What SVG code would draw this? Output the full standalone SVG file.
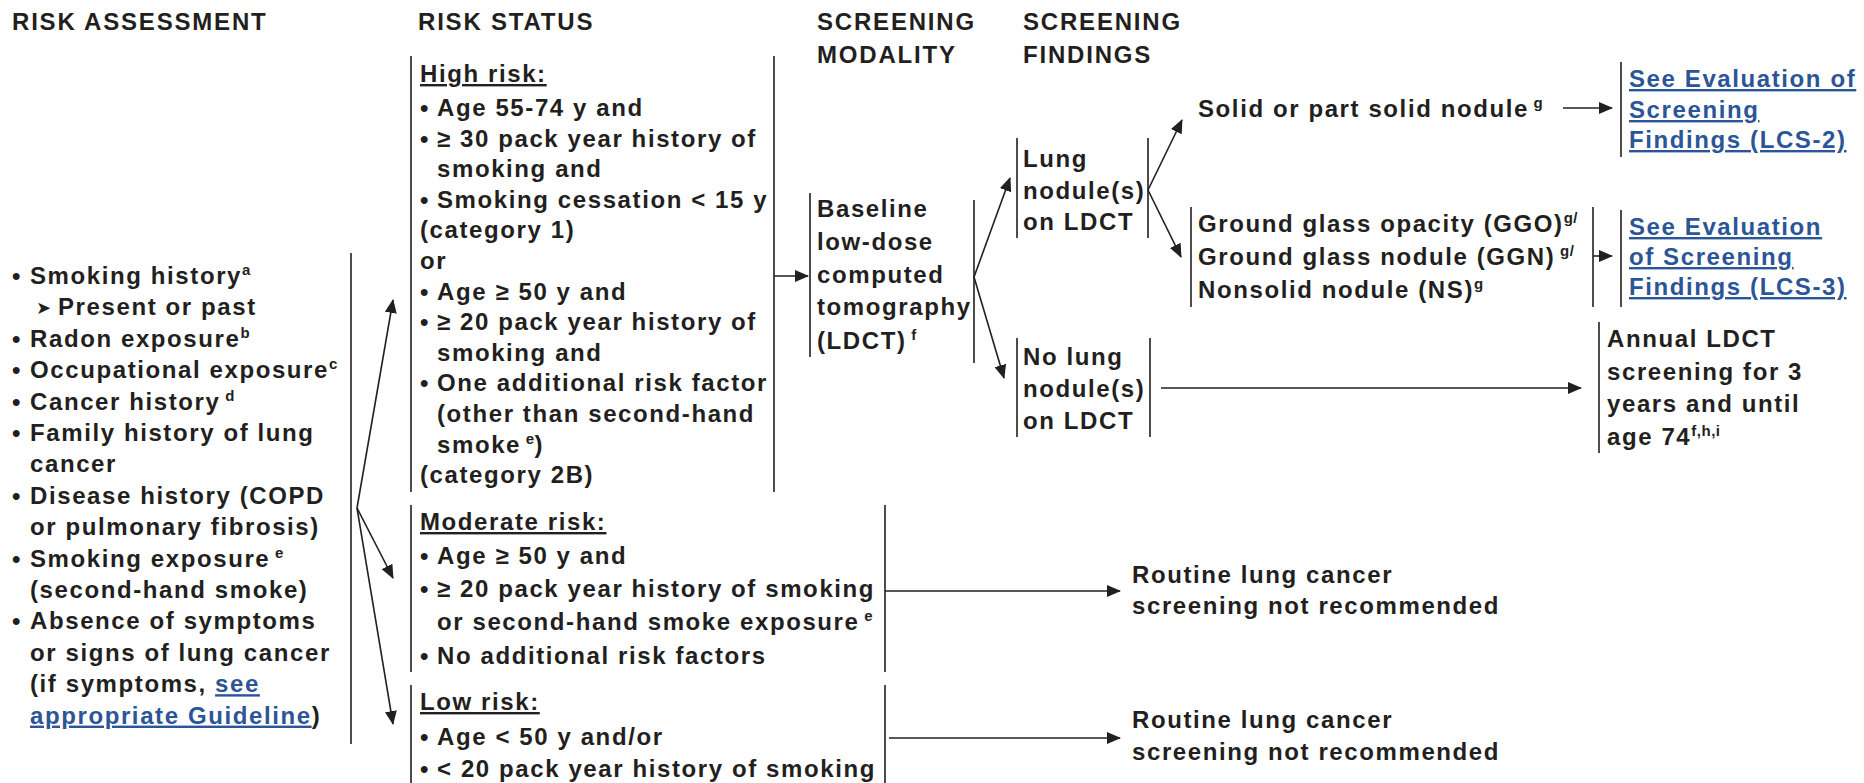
<svg xmlns="http://www.w3.org/2000/svg" width="1864" height="783" viewBox="0 0 1864 783">
<style>
text{font-family:"Liberation Sans",Arial,sans-serif;font-weight:bold;font-size:24px;fill:#231f20;letter-spacing:1.6px}
.h{font-size:24px;letter-spacing:1.8px}
.u{text-decoration:underline}
.lk{fill:#2b5597;text-decoration:underline}
.sup{font-size:15px;letter-spacing:0.5px}
.sym{font-family:"DejaVu Sans",sans-serif;font-size:18px}
.ln{stroke:#231f20;stroke-width:1.6;fill:none}
.cn{stroke:#231f20;stroke-width:1.6;fill:none;marker-end:url(#ah)}
</style>
<defs>
<marker id="ah" markerUnits="userSpaceOnUse" markerWidth="14" markerHeight="12" viewBox="0 0 14 12" refX="13" refY="6" orient="auto">
<path d="M0,0 L14,6 L0,12 Z" fill="#231f20"/>
</marker>
</defs>
<rect width="1864" height="783" fill="#ffffff"/>

<g id="headers">
<text class="h" x="12" y="30">RISK ASSESSMENT</text>
<text class="h" x="418" y="30">RISK STATUS</text>
<text class="h" x="817" y="30">SCREENING</text>
<text class="h" x="817" y="63">MODALITY</text>
<text class="h" x="1023" y="30">SCREENING</text>
<text class="h" x="1023" y="63">FINDINGS</text>
</g>

<g id="risk-assessment">
<line class="ln" x1="351" y1="253" x2="351" y2="744"/>
<text x="12" y="284">•</text><text x="30" y="284">Smoking history<tspan class="sup" dy="-9">a</tspan></text>
<text class="sym" x="36" y="314">➤</text><text x="58" y="315.4">Present or past</text>
<text x="12" y="346.8">•</text><text x="30" y="346.8">Radon exposure<tspan class="sup" dy="-9">b</tspan></text>
<text x="12" y="378.2">•</text><text x="30" y="378.2">Occupational exposure<tspan class="sup" dy="-9">c</tspan></text>
<text x="12" y="409.6">•</text><text x="30" y="409.6">Cancer history<tspan class="sup" dy="-9"> d</tspan></text>
<text x="12" y="441">•</text><text x="30" y="441">Family history of lung</text>
<text x="30" y="472.4">cancer</text>
<text x="12" y="503.8">•</text><text x="30" y="503.8">Disease history (COPD</text>
<text x="30" y="535.2">or pulmonary fibrosis)</text>
<text x="12" y="566.6">•</text><text x="30" y="566.6">Smoking exposure<tspan class="sup" dy="-9"> e</tspan></text>
<text x="30" y="598">(second-hand smoke)</text>
<text x="12" y="629.4">•</text><text x="30" y="629.4">Absence of symptoms</text>
<text x="30" y="660.8">or signs of lung cancer</text>
<text x="30" y="692.2">(if symptoms, <tspan class="lk">see</tspan></text>
<text x="30" y="723.6"><tspan class="lk">appropriate Guideline</tspan>)</text>
</g>

<g id="high-risk">
<line class="ln" x1="411" y1="56" x2="411" y2="492"/>
<line class="ln" x1="774" y1="56" x2="774" y2="492"/>
<text class="u" x="420" y="82">High risk:</text>
<text x="420" y="116">•</text><text x="437" y="116">Age 55-74 y and</text>
<text x="420" y="146.6">•</text><text x="437" y="146.6">≥ 30 pack year history of</text>
<text x="437" y="177.2">smoking and</text>
<text x="420" y="207.8">•</text><text x="437" y="207.8">Smoking cessation &lt; 15 y</text>
<text x="420" y="238.4">(category 1)</text>
<text x="420" y="269">or</text>
<text x="420" y="299.6">•</text><text x="437" y="299.6">Age ≥ 50 y and</text>
<text x="420" y="330.2">•</text><text x="437" y="330.2">≥ 20 pack year history of</text>
<text x="437" y="360.8">smoking and</text>
<text x="420" y="391.4">•</text><text x="437" y="391.4">One additional risk factor</text>
<text x="437" y="422">(other than second-hand</text>
<text x="437" y="452.6">smoke<tspan class="sup" dy="-9"> e</tspan><tspan dy="9">)</tspan></text>
<text x="420" y="483.2">(category 2B)</text>
</g>

<g id="moderate-risk">
<line class="ln" x1="411" y1="505" x2="411" y2="672"/>
<line class="ln" x1="885" y1="505" x2="885" y2="672"/>
<text class="u" x="420" y="530">Moderate risk:</text>
<text x="420" y="564">•</text><text x="437" y="564">Age ≥ 50 y and</text>
<text x="420" y="597">•</text><text x="437" y="597">≥ 20 pack year history of smoking</text>
<text x="437" y="630">or second-hand smoke exposure<tspan class="sup" dy="-9"> e</tspan></text>
<text x="420" y="664">•</text><text x="437" y="664">No additional risk factors</text>
</g>

<g id="low-risk">
<line class="ln" x1="411" y1="685" x2="411" y2="783"/>
<line class="ln" x1="885" y1="685" x2="885" y2="783"/>
<text class="u" x="420" y="710">Low risk:</text>
<text x="420" y="745">•</text><text x="437" y="745">Age &lt; 50 y and/or</text>
<text x="420" y="777">•</text><text x="437" y="777">&lt; 20 pack year history of smoking</text>
</g>

<g id="baseline-ldct">
<line class="ln" x1="810" y1="193" x2="810" y2="357"/>
<line class="ln" x1="974" y1="200" x2="974" y2="363"/>
<text x="817" y="217">Baseline</text>
<text x="817" y="250">low-dose</text>
<text x="817" y="283">computed</text>
<text x="817" y="315">tomography</text>
<text x="817" y="349">(LDCT)<tspan class="sup" dy="-9"> f</tspan></text>
</g>

<g id="lung-nodules">
<line class="ln" x1="1017" y1="138" x2="1017" y2="238"/>
<line class="ln" x1="1148" y1="138" x2="1148" y2="238"/>
<text x="1023" y="167">Lung</text>
<text x="1023" y="199">nodule(s)</text>
<text x="1023" y="230">on LDCT</text>
</g>

<g id="no-lung-nodules">
<line class="ln" x1="1017" y1="338" x2="1017" y2="437"/>
<line class="ln" x1="1150" y1="338" x2="1150" y2="437"/>
<text x="1023" y="365">No lung</text>
<text x="1023" y="397">nodule(s)</text>
<text x="1023" y="429">on LDCT</text>
</g>

<g id="solid-nodule">
<text x="1198" y="117">Solid or part solid nodule<tspan class="sup" dy="-9"> g</tspan></text>
</g>

<g id="ggo">
<line class="ln" x1="1191" y1="207" x2="1191" y2="307"/>
<line class="ln" x1="1593" y1="207" x2="1593" y2="307"/>
<text x="1198" y="232">Ground glass opacity (GGO)<tspan class="sup" dy="-9">g/</tspan></text>
<text x="1198" y="265">Ground glass nodule (GGN)<tspan class="sup" dy="-9"> g/</tspan></text>
<text x="1198" y="298">Nonsolid nodule (NS)<tspan class="sup" dy="-9">g</tspan></text>
</g>

<g id="lcs-2">
<line class="ln" x1="1621" y1="62" x2="1621" y2="157"/>
<text class="lk" x="1629" y="87">See Evaluation of</text>
<text class="lk" x="1629" y="118">Screening</text>
<text class="lk" x="1629" y="148">Findings (LCS-2)</text>
</g>

<g id="lcs-3">
<line class="ln" x1="1621" y1="210" x2="1621" y2="307"/>
<text class="lk" x="1629" y="235">See Evaluation</text>
<text class="lk" x="1629" y="265">of Screening</text>
<text class="lk" x="1629" y="295">Findings (LCS-3)</text>
</g>

<g id="annual-ldct">
<line class="ln" x1="1599" y1="322" x2="1599" y2="453"/>
<text x="1607" y="347">Annual LDCT</text>
<text x="1607" y="380">screening for 3</text>
<text x="1607" y="412">years and until</text>
<text x="1607" y="445">age 74<tspan class="sup" dy="-9">f,h,i</tspan></text>
</g>

<g id="routine-moderate">
<text x="1132" y="583">Routine lung cancer</text>
<text x="1132" y="614">screening not recommended</text>
</g>

<g id="routine-low">
<text x="1132" y="728">Routine lung cancer</text>
<text x="1132" y="760">screening not recommended</text>
</g>

<g id="connectors">
<line class="cn" x1="357" y1="508" x2="393" y2="300"/>
<line class="cn" x1="357" y1="508" x2="393" y2="578"/>
<line class="cn" x1="357" y1="508" x2="393" y2="724"/>
<line class="cn" x1="774" y1="276" x2="808" y2="276"/>
<line class="cn" x1="974" y1="277" x2="1010" y2="178"/>
<line class="cn" x1="974" y1="277" x2="1004" y2="378"/>
<line class="cn" x1="1148" y1="190" x2="1182" y2="120"/>
<line class="cn" x1="1148" y1="190" x2="1181" y2="257"/>
<line class="cn" x1="1563" y1="108" x2="1612" y2="108"/>
<line class="cn" x1="1593" y1="256" x2="1612" y2="256"/>
<line class="cn" x1="1161" y1="388" x2="1581" y2="388"/>
<line class="cn" x1="885" y1="591" x2="1120" y2="591"/>
<line class="cn" x1="889" y1="738" x2="1120" y2="738"/>
</g>
</svg>
